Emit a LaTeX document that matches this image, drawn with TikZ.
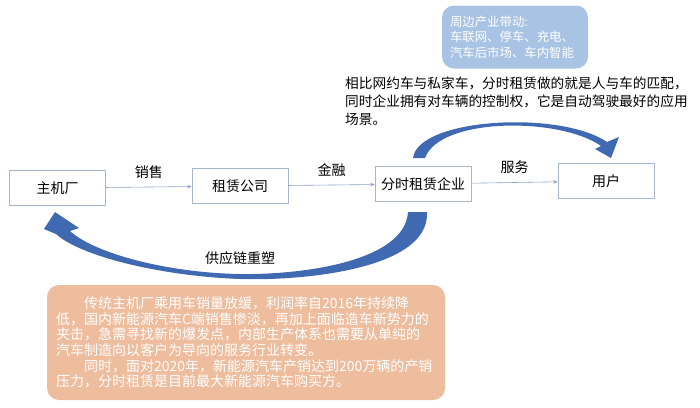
\documentclass[tikz,border=0pt]{standalone}
\usepackage{fontspec}
\setmainfont{Noto Sans CJK SC}
\usepackage{tikz}
\usetikzlibrary{arrows.meta}
\definecolor{boxline}{HTML}{A7B6CF}
\definecolor{flowline}{HTML}{8DA2C6}
\definecolor{arrowblue}{HTML}{3F69B1}
\definecolor{noteblue}{HTML}{A9C3E5}
\definecolor{noteorange}{HTML}{EDBD9D}
\newcommand\cn[2]{\fontsize{#1}{#2}\selectfont}
\tikzstyle{firm}=[draw=boxline,line width=.6pt,fill=white,minimum width=96pt,minimum height=35pt,inner sep=0pt,font=\cn{14}{16}]
\tikzstyle{flow}=[draw=flowline,line width=.6pt,-{Stealth[length=4.5pt,width=3.5pt]}]
\tikzstyle{flowlabel}=[above=5pt,font=\cn{14}{16}]
\tikzstyle{bigarrow}=[fill=arrowblue,draw=none]
\tikzstyle{note}=[rounded corners=12pt,draw=none,text=white,align=left,inner sep=0pt]

\begin{document}
\begin{tikzpicture}[x=1pt,y=-1pt]
	\useasboundingbox (0,0) rectangle (700,407);
	\node[firm] (oem)   at (57.5,188) {主机厂};
	\node[firm] (lease) at (240,186)  {租赁公司};
	\node[firm] (share) at (423,184)  {分时租赁企业};
	\node[firm] (user)  at (606,181)  {用户};
	\draw[flow] (oem)   --node[flowlabel]{销售} (lease);
	\draw[flow] (lease) --node[flowlabel]{金融} (share);
	\draw[flow] (share) --node[flowlabel]{服务} (user);
	% curved arrows
	\fill[bigarrow] (413,158) .. controls (418,118) and (560,110) .. (607,142)
		-- (619,137) -- (611,158) -- (595,149) -- (601,146)
		.. controls (560,117) and (440,117) .. (425,158) -- cycle;
	\fill[bigarrow] (427,212) .. controls (430,270) and (300,281) .. (240,279)
		.. controls (160,276) and (80,256) .. (56,234)
		-- (44,229) -- (55,212) -- (79,228) -- (70,231)
		.. controls (95,254) and (170,273) .. (240,274)
		.. controls (300,275) and (405,262) .. (408,212) -- cycle;
	\node[font=\cn{14}{16}] (chain) at (240,258) {供应链重塑};
	\node[note,fill=noteblue,minimum width=146pt,minimum height=63pt,text width=130pt,font=\cn{12.4}{15.5}] (perks) at (515,37)
		{周边产业带动:\\车联网、停车、充电、\\汽车后市场、车内智能};
	\node[anchor=north west,align=left,inner sep=0pt,font=\cn{13.7}{18}] (ratio) at (345,77)
		{相比网约车与私家车，分时租赁做的就是人与车的匹配，\\同时企业拥有对车辆的控制权，它是自动驾驶最好的应用\\场景。};
	\node[note,fill=noteorange,minimum width=398pt,minimum height=115pt,text width=380pt,font=\cn{14}{15.7}] (trend) at (246,342.5)
		{\hspace*{2em}传统主机厂乘用车销量放缓，利润率自2016年持续降\\
		低，国内新能源汽车C端销售惨淡，再加上面临造车新势力的\\
		夹击，急需寻找新的爆发点，内部生产体系也需要从单纯的\\
		汽车制造向以客户为导向的服务行业转变。\\
		\hspace*{2em}同时，面对2020年，新能源汽车产销达到200万辆的产销\\
		压力，分时租赁是目前最大新能源汽车购买方。};
\end{tikzpicture}
\end{document}
